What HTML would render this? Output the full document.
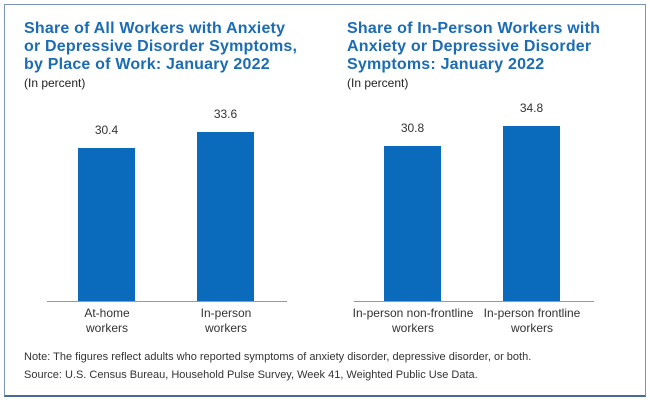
<!DOCTYPE html>
<html><head><style>
body{margin:0;width:650px;height:402px;background:#fff;font-family:"Liberation Sans",sans-serif;position:relative;overflow:hidden}
.box{position:absolute;left:4px;top:4px;width:640px;height:390px;border:1px solid #7a93b8;border-bottom:2px solid #4a6a96}
.t{position:absolute;color:#1b6cb4;font-weight:bold;font-size:16px;line-height:18px;letter-spacing:0.2px}
.s{position:absolute;color:#222;font-size:12px}
.bar{position:absolute;background:#0a6abb;width:57px}
.ax{position:absolute;height:1px;background:#999;top:301px}
.v{position:absolute;font-size:12px;color:#333;width:57px;text-align:center}
.l{position:absolute;font-size:12px;color:#333;text-align:center;line-height:15px;width:140px}
.n{position:absolute;left:24px;font-size:11px;color:#333;line-height:18px;top:348px}
</style></head><body>
<div class="box"></div>
<div class="t" style="left:24px;top:20px">Share of All Workers with Anxiety<br>or Depressive Disorder Symptoms,<br>by Place of Work: January 2022</div>
<div class="s" style="left:24px;top:76px">(In percent)</div>
<div class="t" style="left:347px;top:20px">Share of In-Person Workers with<br>Anxiety or Depressive Disorder<br>Symptoms: January 2022</div>
<div class="s" style="left:347px;top:76px">(In percent)</div>

<div class="v" style="left:78px;top:123px">30.4</div>
<div class="bar" style="left:78px;top:148px;height:153px"></div>
<div class="v" style="left:197px;top:107px">33.6</div>
<div class="bar" style="left:197px;top:132px;height:169px"></div>
<div class="ax" style="left:47px;width:240px"></div>
<div class="l" style="left:37px;top:306px">At-home<br>workers</div>
<div class="l" style="left:156px;top:306px">In-person<br>workers</div>

<div class="v" style="left:384px;top:121px">30.8</div>
<div class="bar" style="left:384px;top:146px;height:155px"></div>
<div class="v" style="left:503px;top:101px">34.8</div>
<div class="bar" style="left:503px;top:126px;height:175px"></div>
<div class="ax" style="left:354px;width:240px"></div>
<div class="l" style="left:343px;top:306px">In-person non-frontline<br>workers</div>
<div class="l" style="left:462px;top:306px">In-person frontline<br>workers</div>

<div class="n">Note: The figures reflect adults who reported symptoms of anxiety disorder, depressive disorder, or both.<br>Source: U.S. Census Bureau, Household Pulse Survey, Week 41, Weighted Public Use Data.</div>
</body></html>
